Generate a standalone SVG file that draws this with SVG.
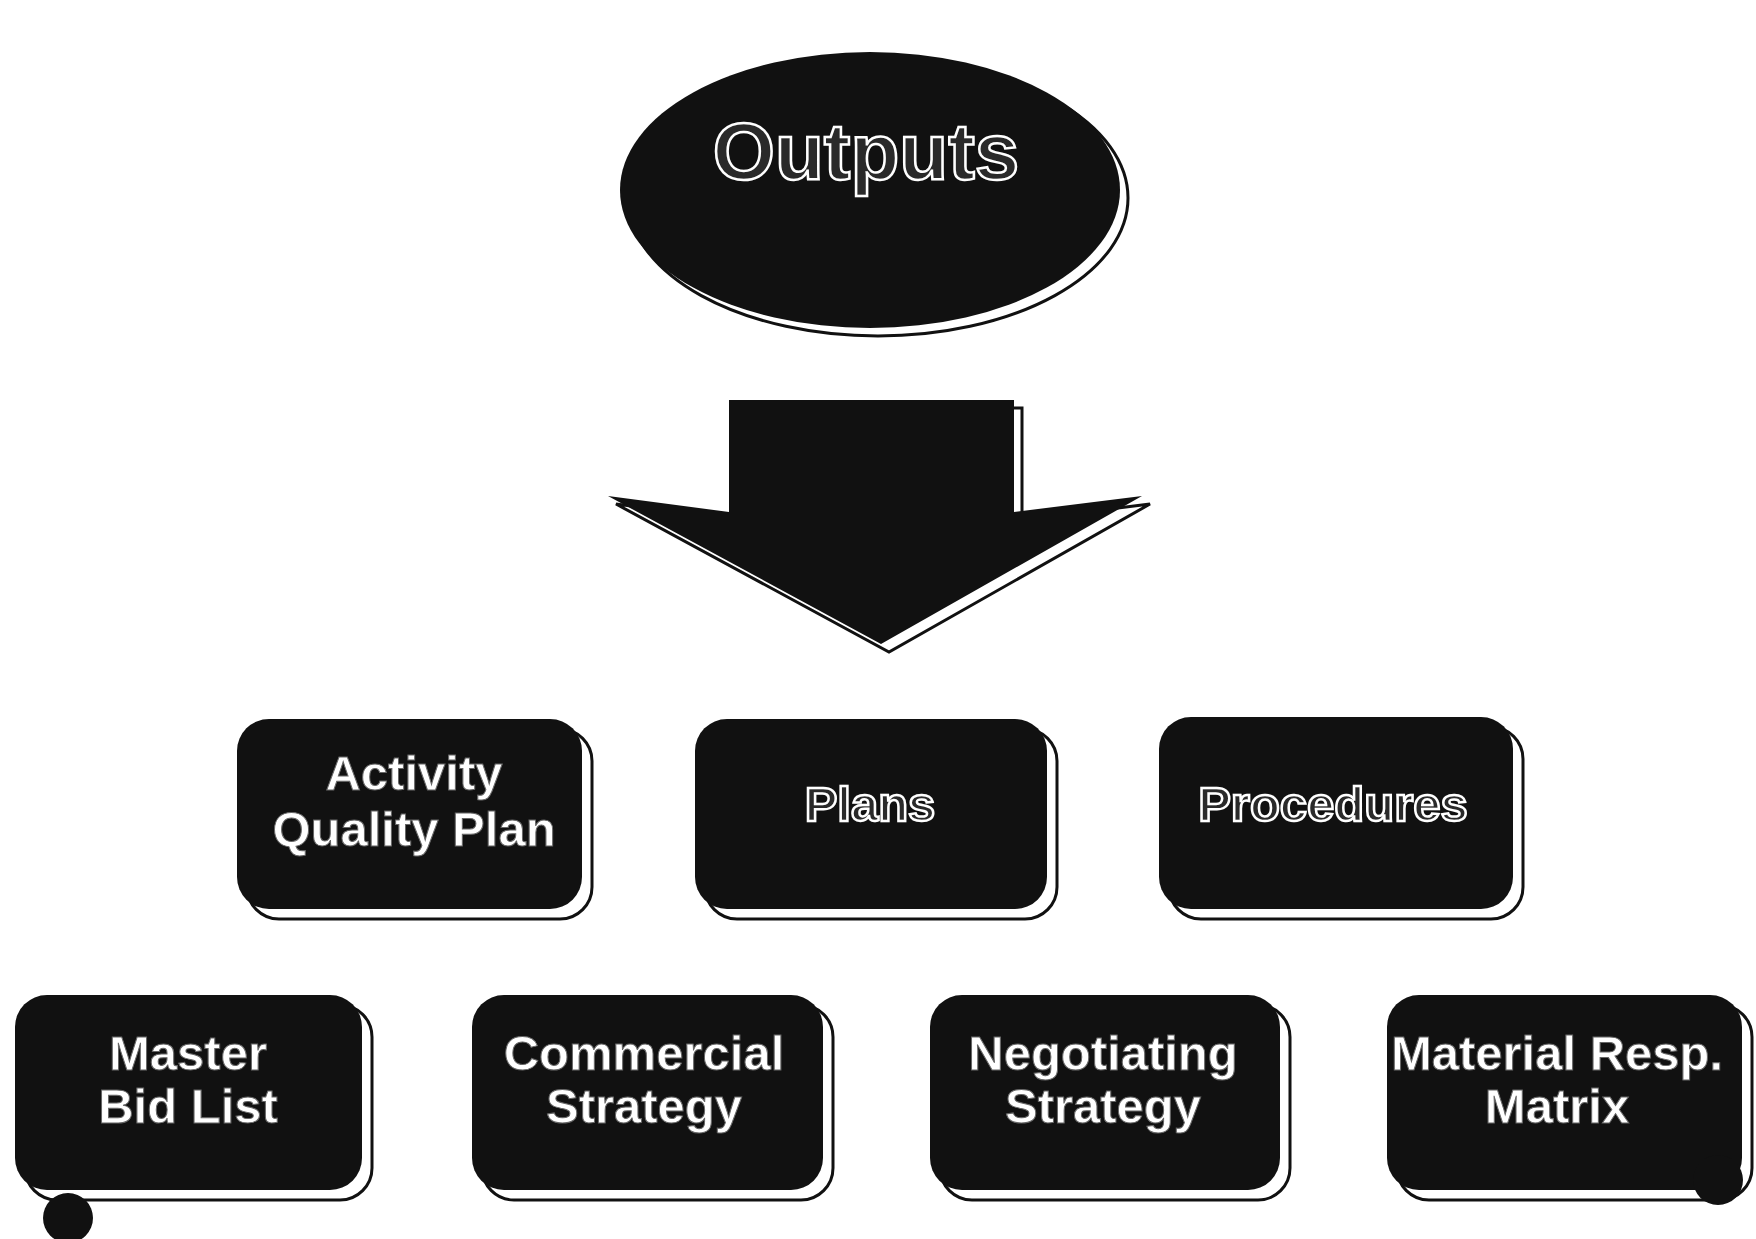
<svg xmlns="http://www.w3.org/2000/svg" width="1756" height="1239" viewBox="0 0 1756 1239">
<defs>
<style>
.box{fill:#111;}
.shadow{fill:#fff;stroke:#111;stroke-width:3;}
.lbl{font-family:"Liberation Sans",Arial,sans-serif;font-weight:bold;font-size:49px;fill:#fff;text-anchor:middle;stroke:#666;stroke-width:1;}
.out{font-family:"Liberation Sans",Arial,sans-serif;font-weight:bold;fill:#2a2a2a;stroke:#fff;stroke-width:2.5;text-anchor:middle;}
</style>
</defs>
<rect width="1756" height="1239" fill="#fff"/>

<g id="outputs">
<ellipse cx="878" cy="198" rx="250" ry="138" class="shadow"/>
<ellipse cx="870" cy="190" rx="250" ry="138" class="box"/>
<text x="866" y="179" class="out" font-size="80">Outputs</text>
</g>

<g id="connectors">
<polygon points="737,408 1022,408 1022,520 1150,504 889,652 616,504 737,520" class="shadow"/>
<polygon points="729,400 1014,400 1014,512 1142,496 881,644 608,496 729,512" fill="#111"/>
</g>

<g id="activity-quality-plan">
<rect x="247" y="729" width="345" height="190" rx="32" class="shadow"/>
<rect x="237" y="719" width="345" height="190" rx="32" class="box"/>
<text x="414" y="790" class="lbl">Activity</text>
<text x="414" y="846" class="lbl">Quality Plan</text>
</g>

<g id="plans">
<rect x="705" y="729" width="352" height="190" rx="32" class="shadow"/>
<rect x="695" y="719" width="352" height="190" rx="32" class="box"/>
<text x="870" y="821" class="out" font-size="49">Plans</text>
</g>

<g id="procedures">
<rect x="1169" y="727" width="354" height="192" rx="32" class="shadow"/>
<rect x="1159" y="717" width="354" height="192" rx="32" class="box"/>
<text x="1333" y="821" class="out" font-size="49">Procedures</text>
</g>

<g id="master-bid-list">
<rect x="25" y="1005" width="347" height="195" rx="32" class="shadow"/>
<rect x="15" y="995" width="347" height="195" rx="32" class="box"/>
<text x="188" y="1070" class="lbl">Master</text>
<text x="188" y="1123" class="lbl">Bid List</text>
<circle cx="68" cy="1218" r="25" fill="#111"/>
</g>

<g id="commercial-strategy">
<rect x="482" y="1005" width="351" height="195" rx="32" class="shadow"/>
<rect x="472" y="995" width="351" height="195" rx="32" class="box"/>
<text x="644" y="1070" class="lbl">Commercial</text>
<text x="644" y="1123" class="lbl">Strategy</text>
</g>

<g id="negotiating-strategy">
<rect x="940" y="1005" width="350" height="195" rx="32" class="shadow"/>
<rect x="930" y="995" width="350" height="195" rx="32" class="box"/>
<text x="1103" y="1070" class="lbl">Negotiating</text>
<text x="1103" y="1123" class="lbl">Strategy</text>
</g>

<g id="material-resp-matrix">
<rect x="1397" y="1005" width="355" height="195" rx="32" class="shadow"/>
<rect x="1387" y="995" width="355" height="195" rx="32" class="box"/>
<text x="1557" y="1070" class="lbl">Material Resp.</text>
<text x="1557" y="1123" class="lbl">Matrix</text>
<circle cx="1718" cy="1180" r="25" fill="#111"/>
</g>
</svg>
